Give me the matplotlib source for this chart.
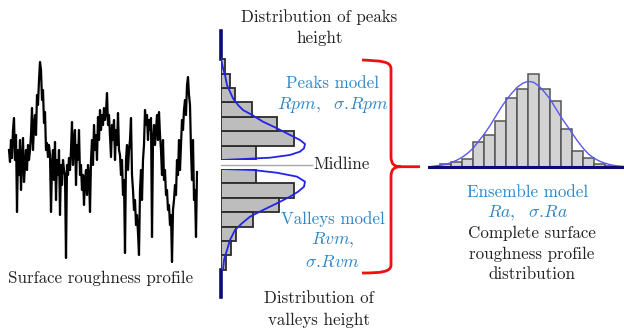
import matplotlib.pyplot as plt
import numpy as np
from matplotlib.patches import PathPatch
from matplotlib.path import Path

plt.rcParams["mathtext.fontset"] = "cm"

W, H = 624, 334

# surface roughness profile, heights about the mean line
profile = [
    0, -12, 10, -8, 20, 32, -10, 15, -62, 0, -25, 10, -40, -10, 12, -32, -15, 0, -20, 5,
    -10, 0, 15, 42, 0, 25, 35, 15, 55, 45, 70, 88, 80, 50, 60, 27, 38, 0, 7, -7,
    5, -5, -62, -15, 0, -30, 8, -50, -10, -25, 0, -65, -15, -35, -10, -20, -25, -108, -15, -25,
    -8, -20, 0, 28, -15, 10, 20, -35, 5, -10, 20, -25, -15, -40, -25, -55, -30, -20, -45, -15,
    -25, -62, -10, 10, -15, 25, 0, 15, -10, 33, 10, 40, 20, 35, 25, 42, 30, 38, 57, 25,
    35, 15, -7, 25, 10, 30, -10, 20, 5, 37, 0, -5, -25, -10, -45, -30, -103, -10, 5, -20,
    0, 10, 32, -25, -40, -60, -50, -75, -65, -83, -105, -40, -20, -50, -10, 5, 40, 25, 35, 10,
    30, 20, 32, -87, 10, 25, 5, 20, 35, 10, 38, 15, 0, -25, 10, -30, -20, -45, -40, -60,
    -55, -75, -65, -112, -60, -50, -35, -45, -10, -25, 10, -20, 5, 30, 20, 40, 50, 35, 65, 73,
    55, 45, 0, -30, 10, -50, -40, -87, -22,
]

# peaks height distribution (bins counted up from the midline)
peak_counts = [35, 73, 56, 31, 14, 9, 4]
peak_fit_len = [0, 2, 4, 6, 9, 12, 17, 22, 31, 42, 56, 69, 79, 84, 83, 79, 69, 49, 22, 1]
peak_fit_h = [7.06, 6.37, 5.9, 5.2, 4.74, 4.28, 3.82, 3.47, 3.13, 2.66, 2.2, 1.74, 1.39,
              1.11, 0.81, 0.58, 0.35, 0.16, 0.07, 0.0]

# valleys depth distribution (bins counted down from the midline)
valley_counts = [35, 73, 58, 32, 15, 10, 5]
valley_fit_len = [1, 32, 56, 76, 84, 83, 77, 69, 56, 42, 29, 21, 14, 9, 6, 3, 2]
valley_fit_d = [0.0, 0.07, 0.26, 0.53, 0.88, 1.23, 1.58, 1.92, 2.38, 2.85, 3.31, 3.77,
                4.24, 4.93, 5.63, 6.32, 7.01]

# complete profile distribution
ens_counts = [3, 5.7, 8, 25.7, 32, 46.7, 69, 78, 93.3, 78, 66, 38, 16.7, 9, 3, 1.3]
ens_fit_x = [-1, 0, 0.5, 1, 1.5, 2, 2.5, 3, 3.5, 4, 4.5, 5, 5.5, 6, 6.5, 7, 7.5, 8, 8.5,
             9, 9.5, 10, 10.5, 11, 11.5, 12, 12.5, 13, 13.5, 14, 14.5, 15, 15.5, 16, 16.7]
ens_fit_y = [0.5, 2, 3, 4.6, 7, 10, 14, 19, 26, 33, 41, 50, 59, 67, 74, 80, 84, 86, 85,
             81, 75, 68, 59, 50, 42, 34, 26, 19, 13, 9, 6, 4, 2.5, 1.5, 0.8]

SERIF = "cmr10"
BLUE_TXT = "#2f86c8"
NAVY = "#0b0b70"
FIT_BLUE = "#2323e8"


def axes_px(fig, x0, y0, x1, y1):
    """Axes from a pixel box given as left, top, right, bottom."""
    ax = fig.add_axes([x0 / W, 1 - y1 / H, (x1 - x0) / W, (y1 - y0) / H])
    ax.set_axis_off()
    ax.patch.set_alpha(0)
    return ax


fig = plt.figure(figsize=(W / 100, H / 100), dpi=100)

# roughness profile
ax_p = axes_px(fig, 5, 55, 201, 267)
ax_p.plot(np.arange(len(profile)), profile, color="black", lw=1.6)
ax_p.set_xlim(-4, len(profile) + 3)
ax_p.set_ylim(-117, 95)

# peaks histogram
pk_top = 129 / 14.4
ax_pk = axes_px(fig, 221, 31, 321, 160)
bins = np.arange(len(peak_counts)) + 0.5
ax_pk.barh(bins, peak_counts, height=1, color="#bdbdbd", edgecolor="#2b2b2b", lw=1.3, zorder=2)
ax_pk.plot(peak_fit_len, peak_fit_h, color=FIT_BLUE, lw=1.3, zorder=3)
ax_pk.set_xlim(0, 100)
ax_pk.set_ylim(0, pk_top)
ax_pk.plot([0, 0], [len(peak_counts), pk_top], color=NAVY, lw=2.6, zorder=1, clip_on=False)

# valleys histogram
vl_bot = 128 / 14.4
ax_vl = axes_px(fig, 221, 169, 321, 297)
bins = np.arange(len(valley_counts)) + 0.5
ax_vl.barh(bins, valley_counts, height=1, color="#bdbdbd", edgecolor="#2b2b2b", lw=1.3, zorder=2)
ax_vl.plot(valley_fit_len, valley_fit_d, color=FIT_BLUE, lw=1.3, zorder=3)
ax_vl.set_xlim(0, 100)
ax_vl.set_ylim(vl_bot, 0)
ax_vl.plot([0, 0], [len(valley_counts), vl_bot], color=NAVY, lw=2.6, zorder=1, clip_on=False)

# ensemble histogram
ax_en = axes_px(fig, 429, 67.3, 624, 167.3)
ax_en.bar(np.arange(len(ens_counts)) + 0.5, ens_counts, width=1, color="#d3d3d3",
          edgecolor="#555555", lw=1.1, zorder=2)
ax_en.plot(ens_fit_x, ens_fit_y, color="#5858f0", lw=1.0, zorder=3)
ax_en.set_xlim(-1.0, 16.7)
ax_en.set_ylim(0, 100)
ax_en.axhline(0, color=NAVY, lw=2.2, zorder=4, clip_on=False)

# overlay in pixel space for labels and the brace
ov = axes_px(fig, 0, 0, W, H)
ov.set_xlim(0, W)
ov.set_ylim(H, 0)

ov.plot([221, 312], [164.5, 164.5], color="#a8a8a8", lw=1.0)

verts = [
    (362, 60), (381, 61), (391, 61), (391, 69),
    (391, 156),
    (391, 164), (394, 166.7), (401, 166.7),
    (420, 166.7),
    (401, 166.7), (394, 166.7), (391, 169.5), (391, 177),
    (391, 265),
    (391, 272), (381, 273), (362, 273),
]
codes = [Path.MOVETO, Path.CURVE4, Path.CURVE4, Path.CURVE4,
         Path.LINETO,
         Path.CURVE4, Path.CURVE4, Path.CURVE4,
         Path.LINETO,
         Path.MOVETO, Path.CURVE4, Path.CURVE4, Path.CURVE4,
         Path.LINETO,
         Path.CURVE4, Path.CURVE4, Path.CURVE4]
ov.add_patch(PathPatch(Path(verts, codes), fill=False, edgecolor="#f01010", lw=2.0))

fs = 12.2
black_txt = dict(family=SERIF, fontsize=fs, color="#222222", ha="center", va="center")
blue_txt = dict(family=SERIF, fontsize=fs, color=BLUE_TXT, ha="center", va="center")
math_txt = dict(fontsize=fs + 0.6, color=BLUE_TXT, ha="center", va="center")

ov.text(101, 278, "Surface roughness profile", **black_txt)
ov.text(319, 17, "Distribution of peaks", **black_txt)
ov.text(320, 38, "height", **black_txt)
ov.text(333, 83, "Peaks model", **blue_txt)
ov.text(333, 105, r"$Rpm,\ \ \sigma{.}\!Rpm$", **math_txt)
ov.text(313, 164, "Midline", family=SERIF, fontsize=fs, color="#222222", ha="left", va="center")
ov.text(333, 219, "Valleys model", **blue_txt)
ov.text(333, 240, r"$Rvm,$", **math_txt)
ov.text(332, 262, r"$\sigma{.}\!Rvm$", **math_txt)
ov.text(319, 298, "Distribution of", **black_txt)
ov.text(319, 320, "valleys height", **black_txt)
ov.text(528, 192, "Ensemble model", **blue_txt)
ov.text(528, 213, r"$Ra,\ \ \sigma{.}\!Ra$", **math_txt)
ov.text(532, 233, "Complete surface", **black_txt)
ov.text(532, 254, "roughness profile", **black_txt)
ov.text(532, 274, "distribution", **black_txt)

fig.savefig("out.png", dpi=100)
